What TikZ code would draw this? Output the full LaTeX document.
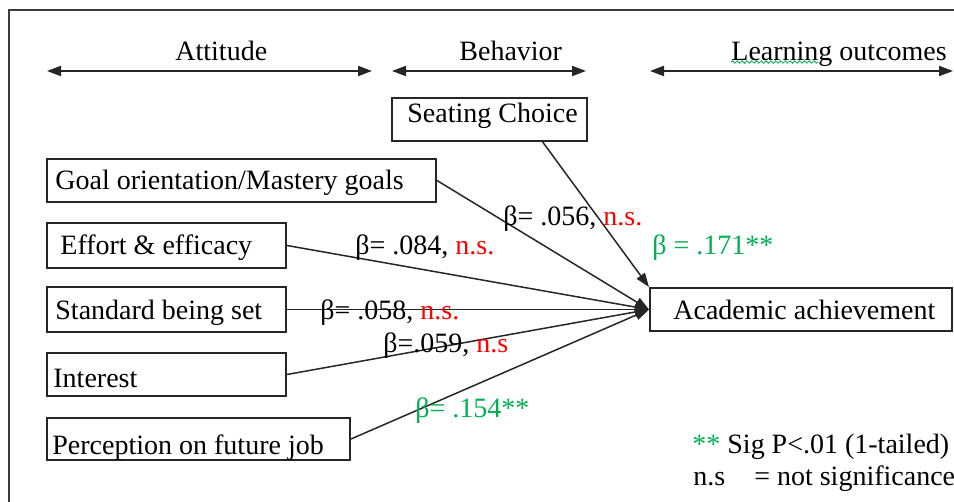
\documentclass[tikz,border=0pt]{standalone}
\usepackage{fontspec}
\setmainfont{Liberation Serif}
\usetikzlibrary{arrows.meta,fit,calc,decorations.pathmorphing}
\definecolor{sigred}{RGB}{255,0,0}
\definecolor{siggreen}{RGB}{0,176,80}
\definecolor{framegray}{RGB}{60,60,60}
\tikzset{
  box/.style={draw=black!85, line width=1pt, inner sep=0pt},
  lbl/.style={anchor=base west, inner sep=0pt, font=\fontsize{14}{16}\selectfont},
  conn/.style={draw=black!85, line width=0.75pt, -{Triangle[length=7pt,width=5pt]}},
  span/.style={draw=black!85, line width=1pt, {Triangle[length=7pt,width=5pt]}-{Triangle[length=7pt,width=5pt]}},
}
\begin{document}
\begin{tikzpicture}[x=0.5pt, y=-0.5pt]
  \useasboundingbox (0,0) rectangle (954,502);
  % outer frame (top and left edges)
  \draw[framegray, line width=1pt] (9,502) -- (9,10) -- (954,10);

  % section headers with their spans
  \node[lbl] (hatt) at (175,61) {Attitude};
  \node[lbl] (hbeh) at (459,61) {Behavior};
  \node[lbl] (hout) at (731,61) {Learning outcomes};
  \draw[siggreen, line width=0.4pt, decorate, decoration={snake, amplitude=0.6pt, segment length=2.4pt}] (731,62) -- (818,62);
  \coordinate (a1) at (47,71);  \coordinate (a2) at (372,71);
  \coordinate (b1) at (392,71); \coordinate (b2) at (586,71);
  \coordinate (c1) at (650,71); \coordinate (c2) at (953,71);
  \draw[span] (a1) -- (a2);
  \draw[span] (b1) -- (b2);
  \draw[span] (c1) -- (c2);

  % boxes
  \node[box, fit={(392,98) (587,141)}] (seat) {};
  \node[box, fit={(47,159) (436,202)}] (goal) {};
  \node[box, fit={(47,223) (286,268)}] (effort) {};
  \node[box, fit={(47,287) (286,332)}] (std) {};
  \node[box, fit={(47,353) (286,396)}] (interest) {};
  \node[box, fit={(47,418) (350,460)}] (job) {};
  \node[box, fit={(650,288) (952,331)}] (ach) {};

  % box texts
  \node[lbl] (tseat) at (407,123) {Seating Choice};
  \node[lbl] (tgoal) at (55,190) {Goal orientation/Mastery goals};
  \node[lbl] (teffort) at (60,255) {Effort \& efficacy};
  \node[lbl] (tstd) at (55,320) {Standard being set};
  \node[lbl] (tinterest) at (53,388) {Interest};
  \node[lbl] (tjob) at (52,455) {Perception on future job};
  \node[lbl] (tach) at (673,320) {Academic achievement};

  % paths into academic achievement
  \coordinate (seatout) at ($(seat.south west)!0.77!(seat.south east)$);
  \draw[conn] (seatout) -- (ach.north west);
  \draw[conn] (goal.east) -- (ach.west);
  \draw[conn] (effort.east) -- (ach.west);
  \draw[conn] (std.east) -- (ach.west);
  \draw[conn] (interest.east) -- (ach.west);
  \draw[conn] (job.east) -- (ach.west);

  % coefficients
  \node[lbl] (c056) at (503,226) {β= .056, \textcolor{sigred}{n.s.}};
  \node[lbl] (c084) at (355,255) {β= .084, \textcolor{sigred}{n.s.}};
  \node[lbl] (c058) at (320,320) {β= .058, \textcolor{sigred}{n.s.}};
  \node[lbl] (c059) at (383,353) {β=.059, \textcolor{sigred}{n.s}};
  \node[lbl, text=siggreen] (c154) at (415,418) {β= .154**};
  \node[lbl, text=siggreen] (c171) at (652,255) {β = .171**};

  % legend
  \node[lbl] (leg1) at (692,453) {\textcolor{siggreen}{**} Sig P<.01 (1-tailed)};
  \node[lbl] (leg2) at (693,486) {n.s\hspace{14.5pt}= not significance};
\end{tikzpicture}
\end{document}
